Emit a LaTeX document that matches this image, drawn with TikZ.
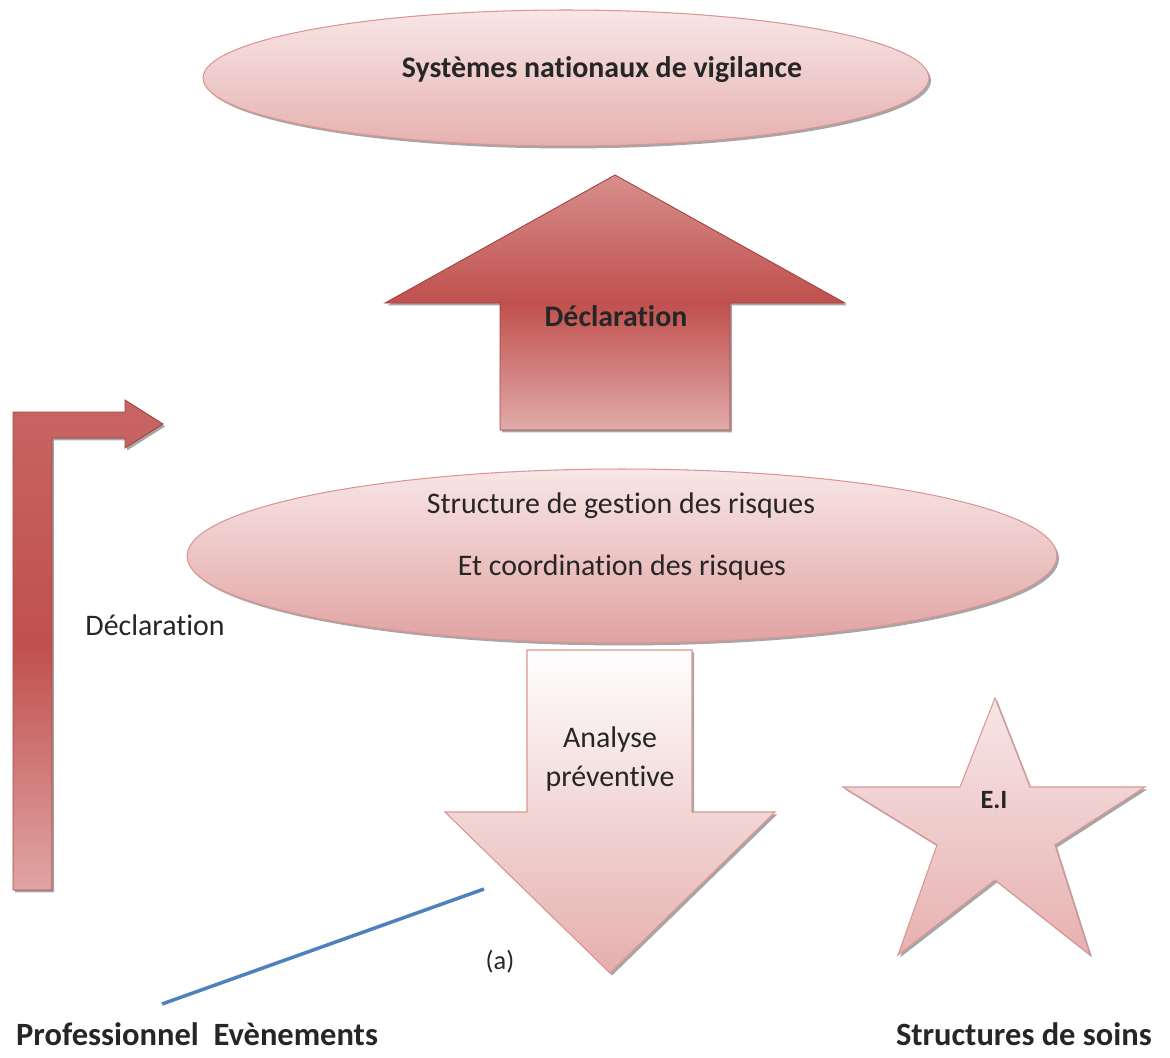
\documentclass[tikz,border=0pt]{standalone}
\usepackage{fontspec}
\setmainfont{Carlito}[Ligatures=NoCommon]
\usetikzlibrary{shapes.geometric, shadows, positioning}
\definecolor{rouge}{HTML}{C0504D}
\definecolor{rougefonce}{HTML}{A6403E}
\definecolor{rose}{HTML}{D99694}
\definecolor{rosepale}{HTML}{F8E6E6}
\definecolor{rosemid}{HTML}{E6B1B0}
\definecolor{bleu}{HTML}{4F81BD}
\tikzset{
  ombre/.style={drop shadow={shadow xshift=1.2pt, shadow yshift=-1.4pt, opacity=0.35, fill=black}},
  oval/.style={ellipse, draw=rose, line width=0.6pt, top color=rosepale, bottom color=#1, ombre},
  fleche/.style={draw=rougefonce, line width=0.5pt, ombre},
  clair/.style={draw=rose, line width=0.6pt, ombre},
  txt/.style={font=\fontsize{17}{20}\selectfont, text=black!85},
  gras/.style={txt, font=\fontsize{17}{20}\selectfont\bfseries},
  legende/.style={font=\fontsize{18.5}{22}\selectfont\bfseries, text=black!85},
}
\begin{document}
\begin{tikzpicture}[x=0.02cm, y=-0.02cm]
  \useasboundingbox (0,0) rectangle (1170,1058);
  % ellipses
  \node[oval=rosemid, minimum width=14.52cm, minimum height=2.72cm] (vigil) at (566,78) {};
  \node[gras, anchor=base] (vigiltxt) at (602,77) {Systèmes nationaux de vigilance};
  \node[oval=rosemid!85!rouge, minimum width=17.4cm, minimum height=3.48cm] (gestion) at (622,556) {};
  \node[txt, anchor=base] (gestion1) at (621,513) {Structure de gestion des risques};
  \node[txt, anchor=base] (gestion2) at (622,575) {Et coordination des risques};
  % fleche montante
  \shadedraw[fleche, top color=rose!90!rouge, bottom color=rose!80!white, middle color=rouge]
    (500,430) -- (500,303) -- (385,303) -- (615,175) -- (845,303) -- (730,303) -- (730,430) -- cycle;
  \node[gras] (declhaut) at (616,316) {Déclaration};
  % fleche en L
  \shadedraw[fleche, top color=rouge!70!rose, bottom color=rose!85!white, middle color=rouge]
    (13,890) -- (13,412) -- (125,412) -- (125,400) -- (163,424) -- (125,448) -- (125,438)
    -- (52,438) -- (52,890) -- cycle;
  \node[txt] (declgauche) at (155,625) {Déclaration};
  % fleche descendante
  \shadedraw[clair, top color=white, bottom color=rosemid!90!rose]
    (527,650) -- (692,650) -- (692,812) -- (775,812) -- (610,973) -- (445,812) -- (527,812) -- cycle;
  \node[txt, align=center] (analyse) at (610,759) {Analyse\\[2pt]préventive};
  \node[txt, font=\fontsize{15}{18}\selectfont] (lettre) at (500,962) {(a)};
  % etoile
  \shadedraw[clair, top color=rosepale, bottom color=rosemid]
    (995,698) -- (1030,787) -- (1145,787) -- (1055,845) -- (1090,955) -- (995,880)
    -- (898,955) -- (937,845) -- (843,787) -- (960,787) -- cycle;
  \node[gras, font=\fontsize{15}{18}\selectfont\bfseries] (ei) at (994,800) {E.I};
  % trait bleu
  \coordinate (traitA) at (162,1004);
  \coordinate (traitB) at (484,889);
  \draw[bleu, line width=2pt] (traitA) -- (traitB);
  % legendes
  \node[legende, anchor=base west] (pro) at (10,1045) {Professionnel\ \ Evènements};
  \node[legende, anchor=base east] (soins) at (1158,1045) {Structures de soins};
\end{tikzpicture}
\end{document}
